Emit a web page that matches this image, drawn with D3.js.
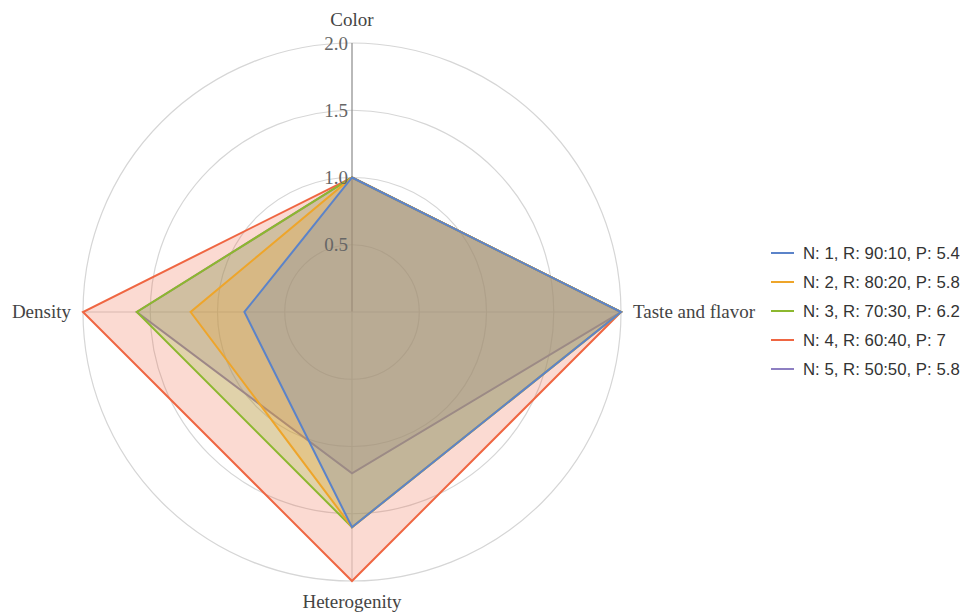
<!DOCTYPE html>
<html>
<head>
<meta charset="utf-8">
<script src="https://cdn.jsdelivr.net/npm/d3@7"></script>
<style>
  html, body { margin: 0; padding: 0; background: #fff; }
  svg { display: block; }
</style>
</head>
<body>
<svg id="chart" width="963" height="614"></svg>
<script>
// Radar chart: sensory attributes for five blends
const axes = ["Color", "Taste and flavor", "Heterogenity", "Density"];
const seriesNames = [
  "N: 1, R: 90:10, P: 5.4",
  "N: 2, R: 80:20, P: 5.8",
  "N: 3, R: 70:30, P: 6.2",
  "N: 4, R: 60:40, P: 7",
  "N: 5, R: 50:50, P: 5.8"
];
const s1 = [1.0, 2.0, 1.6, 0.8];
const s2 = [1.0, 2.0, 1.6, 1.2];
const s3 = [1.0, 2.0, 1.6, 1.6];
const s4 = [1.0, 2.0, 2.0, 2.0];
const s5 = [1.0, 2.0, 1.2, 1.6];
const seriesValues = [s1, s2, s3, s4, s5];
const colors = ["#5b83c9", "#eea52a", "#8cb82f", "#ef6642", "#8d7fc2"];
const ticks = [0.5, 1.0, 1.5, 2.0];
const tickLabels = ["0.5", "1.0", "1.5", "2.0"];

const svg = d3.select("#chart");
const cx = 352, cy = 312, R = 269;
const r = d3.scaleLinear().domain([0, 2]).range([0, R]);
const angle = d3.scalePoint().domain(axes).range([0, 2 * Math.PI * (axes.length - 1) / axes.length]);

const g = svg.append("g").attr("transform", `translate(${cx},${cy})`);

// grid rings
g.selectAll("circle.ring").data(ticks).join("circle")
  .attr("class", "ring")
  .attr("r", d => r(d))
  .attr("fill", "none")
  .attr("stroke", "#d6d6d6")
  .attr("stroke-width", 1.2);

// spokes
const pt = (a, v) => [Math.sin(angle(a)) * r(v), -Math.cos(angle(a)) * r(v)];
g.selectAll("line.spoke").data(axes).join("line")
  .attr("class", "spoke")
  .attr("x1", 0).attr("y1", 0)
  .attr("x2", d => pt(d, 2)[0]).attr("y2", d => pt(d, 2)[1])
  .attr("stroke", (d, i) => i === 0 ? "#8a8a8a" : "#d3d3d3")
  .attr("stroke-width", 1.2);

// series polygons, last series drawn first
const line = d3.lineRadial()
  .angle((d, i) => angle(axes[i]))
  .radius(d => r(d))
  .curve(d3.curveLinearClosed);

const order = d3.range(seriesValues.length).reverse();
const series = g.selectAll("g.series").data(order).join("g").attr("class", "series");
series.append("path")
  .attr("d", i => line(seriesValues[i]))
  .attr("fill", i => colors[i])
  .attr("fill-opacity", 0.24)
  .attr("stroke", i => colors[i])
  .attr("stroke-width", 2)
  .attr("stroke-linejoin", "miter");

// tick labels along the first axis
g.selectAll("text.tick").data(ticks).join("text")
  .attr("class", "tick")
  .attr("x", -4)
  .attr("y", d => -r(d))
  .attr("dy", "0.35em")
  .attr("text-anchor", "end")
  .attr("font-family", "'Liberation Serif', 'DejaVu Serif', serif")
  .attr("font-size", 19)
  .attr("fill", "#666")
  .text((d, i) => tickLabels[i]);

// axis labels
const labelPos = [
  { x: 0, y: -R - 17, anchor: "middle" },
  { x: R + 12, y: 6, anchor: "start" },
  { x: 0, y: R + 27, anchor: "middle" },
  { x: -R - 12, y: 6, anchor: "end" }
];
g.selectAll("text.axis-label").data(axes).join("text")
  .attr("class", "axis-label")
  .attr("x", (d, i) => labelPos[i].x)
  .attr("y", (d, i) => labelPos[i].y)
  .attr("text-anchor", (d, i) => labelPos[i].anchor)
  .attr("font-family", "'Liberation Serif', 'DejaVu Serif', serif")
  .attr("font-size", 19)
  .attr("fill", "#444")
  .text(d => d);

// legend
const legend = svg.append("g").attr("transform", "translate(771,253)");
const item = legend.selectAll("g").data(seriesNames).join("g")
  .attr("transform", (d, i) => `translate(0,${i * 29})`);
item.append("line")
  .attr("x1", 0).attr("x2", 23).attr("y1", 0).attr("y2", 0)
  .attr("stroke", (d, i) => colors[i]).attr("stroke-width", 2);
item.append("text")
  .attr("x", 32).attr("y", 0).attr("dy", "0.35em")
  .attr("font-family", "'Liberation Sans', Arial, sans-serif")
  .attr("font-size", 16.8)
  .attr("fill", "#333")
  .text(d => d);
</script>
</body>
</html>
